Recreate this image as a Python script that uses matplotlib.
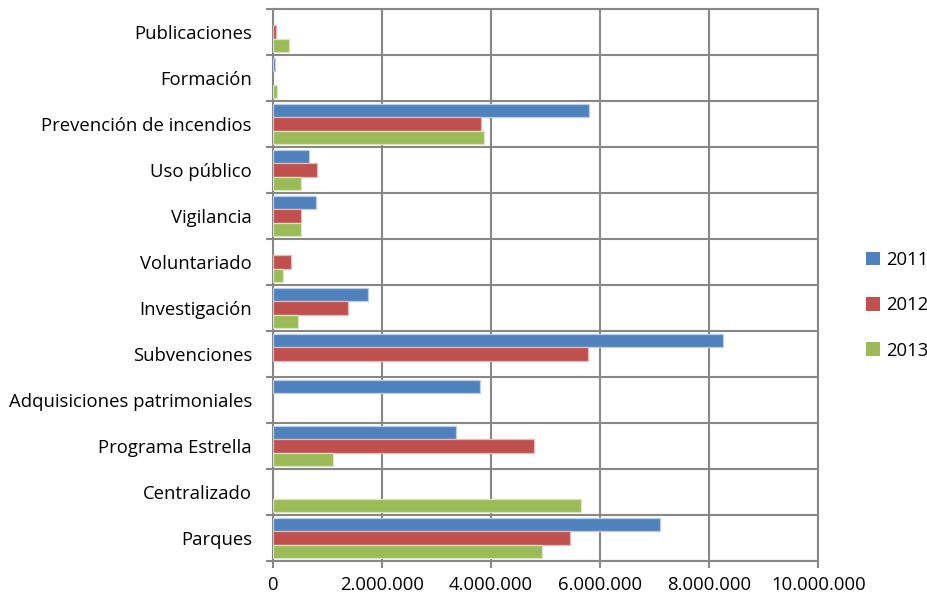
import matplotlib
matplotlib.use("Agg")
import matplotlib.pyplot as plt
import numpy as np
from matplotlib.ticker import FuncFormatter, FixedLocator

# categories listed bottom to top
categories = ["Parques", "Centralizado", "Programa Estrella", "Adquisiciones patrimoniales",
              "Subvenciones", "Investigación", "Voluntariado", "Vigilancia", "Uso público",
              "Prevención de incendios", "Formación", "Publicaciones"]
years = ["2011", "2012", "2013"]
v2011 = [7090000, 0, 3360000, 3800000, 8250000, 1750000, 0, 790000, 670000, 5790000, 35000, 0]
v2012 = [5450000, 0, 4780000, 0, 5770000, 1375000, 340000, 510000, 810000, 3820000, 0, 56000]
v2013 = [4940000, 5640000, 1110000, 0, 0, 460000, 190000, 510000, 520000, 3870000, 85000, 290000]
colors = ["#4F81BD", "#C0504D", "#9BBB59"]
edges = ["#B9CDE5", "#E6B9B8", "#D7E4BD"]

plt.rcParams['font.family'] = ['Open Sans', 'DejaVu Sans']
fs = 13.3
fig = plt.figure(figsize=(9.28, 6.02), dpi=100)
ax = fig.add_axes([0.294, 0.068, 0.588, 0.917])

y = np.arange(len(categories))
h = 0.293
for i, (vals, off) in enumerate(zip([v2011, v2012, v2013], [h, 0, -h])):
    lw = [0.9 if v > 0 else 0 for v in vals]
    ax.barh(y + off, vals, height=h, color=colors[i], edgecolor=edges[i],
            linewidth=lw, label=years[i], zorder=3)

gc = "#878787"
ax.set_xlim(0, 10000000)
ax.set_ylim(-0.5, len(categories) - 0.5)
ax.set_xticks(np.arange(0, 10000001, 2000000))
ax.xaxis.set_major_formatter(FuncFormatter(lambda v, p: f"{int(v):,}".replace(",", ".")))
ax.set_yticks(y)
ax.set_yticklabels(categories)
ax.yaxis.set_minor_locator(FixedLocator(np.arange(-0.5, len(categories), 1.0)))
ax.tick_params(axis='y', which='major', length=0, pad=15, labelsize=fs)
ax.tick_params(axis='y', which='minor', length=5, color=gc, width=1.5, direction='out')
ax.tick_params(axis='x', which='major', length=5, color=gc, width=1.5, direction='out',
               pad=6, labelsize=fs)
ax.grid(axis='x', which='major', color=gc, linewidth=1.5, zorder=0)
ax.grid(axis='y', which='minor', color=gc, linewidth=1.5, zorder=0)
for s in ax.spines.values():
    s.set_color(gc)
    s.set_linewidth(1.5)

leg = fig.legend(loc='center left', bbox_to_anchor=(0.925, 0.493), frameon=False,
                 fontsize=fs, labelspacing=1.48, handlelength=0.75, handleheight=0.75,
                 handletextpad=0.35, borderaxespad=0)
for hd in leg.legend_handles:
    hd.set_edgecolor('none')

fig.savefig("out.png", dpi=100)
